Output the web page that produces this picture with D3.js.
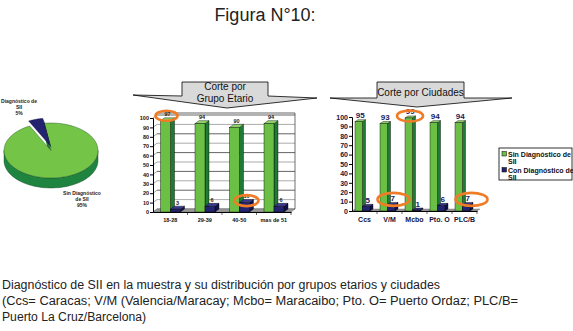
<!DOCTYPE html>
<html>
<head>
<meta charset="utf-8">
<script src="https://cdn.jsdelivr.net/npm/d3@7"></script>
<style>
  body { margin: 0; background: #fff; }
  svg { display: block; font-family: "Liberation Sans", Arial, sans-serif; }
</style>
</head>
<body>
<div id="chart"></div>
<script>
// data
const pieLabels = ["Sin Diagnóstico de SII", "Diagnóstico de SII"];
const pieValues = [95, 5];

const ageGroups = ["18-28", "29-39", "40-50", "mas de 51"];
const ageSin = [97, 94, 90, 94];
const ageCon = [3, 6, 10, 6];

const cities = ["Ccs", "V/M", "Mcbo", "Pto. O", "PLC/B"];
const citySin = [95, 93, 99, 94, 94];
const cityCon = [5, 7, 1, 6, 7];

const yTicks = d3.range(0, 101, 10);
const seriesNames = ["Sin Diagnóstico de SII", "Con Diagnóstico de SII"];
const captionLines = [
  "Diagnóstico de SII en la muestra y su distribución por grupos etarios y ciudades",
  "(Ccs= Caracas; V/M (Valencia/Maracay; Mcbo= Maracaibo; Pto. O= Puerto Ordaz; PLC/B=",
  "Puerto La Cruz/Barcelona)"
];

const W = 573, H = 331;
const green = "#6cbf45", greenTop = "#8fd468", greenSide = "#1e7a34";
const navy = "#232370", navyTop = "#3a3a8f", navySide = "#12124a";
const orange = "#f07c28";

const svg = d3.select("#chart").append("svg")
    .attr("width", W)
    .attr("height", H);

// title
svg.append("text")
    .attr("x", 265).attr("y", 21)
    .attr("text-anchor", "middle")
    .attr("font-size", 18)
    .attr("fill", "#222")
    .text("Figura N°10:");

// ---------- 3D pie ----------
const pc = { x: 51, y: 150.5, rx: 47, ry: 27.5, depth: 10 };
const pie = d3.pie().sort(null)
    .startAngle(-9 * Math.PI / 180)
    .endAngle(351 * Math.PI / 180);
const arcs = pie(pieValues);

function ept(t, dx, dy) {
  return [pc.x + dx + pc.rx * Math.sin(t), pc.y + dy - pc.ry * Math.cos(t)];
}
function arcPts(a0, a1, dx, dy) {
  const n = 60, pts = [];
  for (let i = 0; i <= n; i++) pts.push(ept(a0 + (a1 - a0) * i / n, dx, dy));
  return pts;
}

const pieG = svg.append("g");
// side wall of green (front half visible)
{
  const a0 = Math.PI / 2, a1 = 3 * Math.PI / 2;
  const top = arcPts(a0, a1, 0, 0);
  const bot = arcPts(a1, a0, 0, pc.depth);
  pieG.append("path")
      .attr("d", d3.line()(top.concat(bot)) + "Z")
      .attr("fill", "#1f8440")
      .attr("stroke", "#0d3d1a").attr("stroke-width", 0.4);
}
// green top face
{
  const a = arcs[0];
  const pts = [[pc.x, pc.y]].concat(arcPts(a.startAngle, a.endAngle, 0, 0));
  const e = ept(a.startAngle, 0, 0);
  pieG.append("path")
      .attr("d", d3.line()([[pc.x, pc.y], e, [e[0], e[1] + pc.depth], [pc.x, pc.y + pc.depth]]) + "Z")
      .attr("fill", greenSide);
  pieG.append("path")
      .attr("d", d3.line()(pts) + "Z")
      .attr("fill", "#74c447")
      .attr("stroke", "#1a4d1a").attr("stroke-width", 0.4);
}
// blue exploded wedge
{
  const a = arcs[1];
  const dx = -1, dy = -5;
  const c = [pc.x + dx, pc.y + dy];
  const e = ept(a.endAngle, dx, dy);
  pieG.append("path")
      .attr("d", d3.line()([c, e, [e[0] + 1.5, e[1] + 3], [c[0] + 1.5, c[1] + 3]]) + "Z")
      .attr("fill", navySide);
  const pts = [c].concat(arcPts(a.startAngle, a.endAngle, dx, dy));
  pieG.append("path")
      .attr("d", d3.line()(pts) + "Z")
      .attr("fill", navy)
      .attr("stroke", "#0a0a30").attr("stroke-width", 0.4);
}
// pie labels
const pieLab = [
  { x: 19, y: 103, lines: ["Diagnóstico de", "SII", pieValues[1] + "%"] },
  { x: 82, y: 195, lines: ["Sin Diagnóstico", "de SII", pieValues[0] + "%"] }
];
pieLab.forEach(l => {
  const t = pieG.append("text")
      .attr("text-anchor", "middle")
      .attr("font-size", 5).attr("font-weight", "bold").attr("fill", "#222");
  l.lines.forEach((s, i) => t.append("tspan").attr("x", l.x).attr("y", l.y + i * 6.2).text(s));
});

// ---------- callout arrows ----------
function callout(box, wl, wr, tip, lines, ty) {
  const g = svg.append("g");
  g.append("path")
      .attr("d", d3.line()([
        [box.x0, box.y0], [box.x1, box.y0], [box.x1, box.y1],
        [wr[0], wr[1]], [tip[0], tip[1]], [wl[0], wl[1]],
        [box.x0, box.y1]
      ]) + "Z")
      .attr("fill", "#d9d9d9")
      .attr("stroke", "#000").attr("stroke-width", 0.8);
  const t = g.append("text")
      .attr("text-anchor", "middle")
      .attr("font-size", 10).attr("fill", "#111");
  lines.forEach((s, i) => t.append("tspan").attr("x", (box.x0 + box.x1) / 2).attr("y", ty + i * 12).text(s));
}
callout({ x0: 182, x1: 268, y0: 82, y1: 96 }, [133, 95], [317, 98], [227, 108], ["Corte por", "Grupo Etario"], 90);
callout({ x0: 377, x1: 464, y0: 82, y1: 98 }, [330, 98], [512, 98], [417, 107], ["Corte por Ciudades"], 96);

// ---------- 3D bar helper ----------
function bar3d(g, x, w, yTop, y0, dx, dy, fill, top, side) {
  g.append("path")
      .attr("d", d3.line()([[x + w, yTop], [x + w + dx, yTop + dy], [x + w + dx, y0 + dy], [x + w, y0]]) + "Z")
      .attr("fill", side).attr("stroke", "#000").attr("stroke-width", 0.4);
  g.append("path")
      .attr("d", d3.line()([[x, yTop], [x + dx, yTop + dy], [x + w + dx, yTop + dy], [x + w, yTop]]) + "Z")
      .attr("fill", top).attr("stroke", "#000").attr("stroke-width", 0.4);
  g.append("rect")
      .attr("x", x).attr("y", yTop)
      .attr("width", w).attr("height", Math.max(0, y0 - yTop))
      .attr("fill", fill).attr("stroke", "#000").attr("stroke-width", 0.4);
}

function barChart(opt) {
  const g = svg.append("g");
  const x = d3.scaleBand().domain(opt.cats).range([opt.x0, opt.x1]);
  const sub = d3.scaleBand().domain(["sin", "con"]).range(opt.sub);
  const y = d3.scaleLinear().domain([0, 100]).range([opt.y0, opt.y1]);
  const dx = opt.dx, dy = opt.dy;

  // back wall gridlines
  if (opt.grid) {
    yTicks.forEach((v, i) => {
      g.append("line")
          .attr("x1", opt.x0 + dx).attr("x2", opt.x1 + dx)
          .attr("y1", y(v) + dy).attr("y2", y(v) + dy)
          .attr("stroke", i % 2 ? "#888" : "#222").attr("stroke-width", 0.7);
      g.append("line")
          .attr("x1", opt.x0).attr("x2", opt.x0 + dx)
          .attr("y1", y(v)).attr("y2", y(v) + dy)
          .attr("stroke", "#444").attr("stroke-width", 0.5);
    });
    g.append("line")
        .attr("x1", opt.x1 + dx).attr("x2", opt.x1 + dx)
        .attr("y1", y(100) + dy - 2).attr("y2", y(0) + dy)
        .attr("stroke", "#333").attr("stroke-width", 0.7);
    g.append("line")
        .attr("x1", opt.x0 + dx).attr("x2", opt.x1 + dx)
        .attr("y1", y(100) + dy - 2).attr("y2", y(100) + dy - 2)
        .attr("stroke", "#222").attr("stroke-width", 0.7);
  }
  // floor
  g.append("path")
      .attr("d", d3.line()([[opt.x0, y(0)], [opt.x1, y(0)], [opt.x1 + dx, y(0) + dy], [opt.x0 + dx, y(0) + dy]]) + "Z")
      .attr("fill", "#999").attr("stroke", "#666").attr("stroke-width", 0.4);

  // bars
  opt.cats.forEach((c, i) => {
    const xs = x(c) + sub("sin"), xc = x(c) + sub("con");
    bar3d(g, xs, sub.bandwidth(), y(opt.sin[i]), y(0), dx, dy, green, greenTop, greenSide);
    bar3d(g, xc, sub.bandwidth(), y(opt.con[i]), y(0), dx, dy, navy, navyTop, navySide);
    g.append("text")
        .attr("x", xs + sub.bandwidth() / 2 + dx / 2).attr("y", y(opt.sin[i]) + dy - 1.5)
        .attr("text-anchor", "middle")
        .attr("font-size", opt.vfs).attr("font-weight", "bold").attr("fill", opt.vcol)
        .text(opt.sin[i]);
    g.append("text")
        .attr("x", xc + sub.bandwidth() / 2 + dx / 2).attr("y", y(opt.con[i]) + dy - 1.5)
        .attr("text-anchor", "middle")
        .attr("font-size", opt.vfs).attr("font-weight", "bold").attr("fill", opt.vcol)
        .text(opt.con[i]);
  });

  // axes
  const ya = g.append("g")
      .attr("transform", `translate(${opt.x0},0)`)
      .call(d3.axisLeft(y).tickValues(yTicks).tickSize(3).tickPadding(1));
  ya.select(".domain").attr("stroke", "#000");
  ya.selectAll("text").attr("font-size", opt.tfs).attr("font-weight", "bold").attr("fill", opt.tcol)
      .attr("font-family", "Liberation Sans, Arial, sans-serif");

  const xa = g.append("g")
      .attr("transform", `translate(0,${opt.y0})`)
      .call(d3.axisBottom(x).tickSize(0).tickPadding(opt.xpad));
  xa.select(".domain").attr("stroke", "#000");
  xa.selectAll("text").attr("font-size", opt.xfs).attr("font-weight", "bold").attr("fill", opt.tcol)
      .attr("font-family", "Liberation Sans, Arial, sans-serif");
  // category separator ticks
  opt.cats.forEach(c => {
    g.append("line")
        .attr("x1", x(c) + x.bandwidth()).attr("x2", x(c) + x.bandwidth())
        .attr("y1", opt.y0).attr("y2", opt.y0 + 3)
        .attr("stroke", "#000").attr("stroke-width", 0.6);
  });
  return { g, x, y, sub };
}

const left = barChart({
  cats: ageGroups, sin: ageSin, con: ageCon,
  x0: 153, x1: 291, y0: 212, y1: 118, sub: [7.5, 27.5], dx: 4, dy: -3,
  grid: true, vfs: 5.5, vcol: "#222", tfs: 5.5, xfs: 5.5, xpad: 6, tcol: "#111"
});
const right = barChart({
  cats: cities, sin: citySin, con: cityCon,
  x0: 352, x1: 477, y0: 211, y1: 117, sub: [3, 18], dx: 3, dy: -2,
  grid: false, vfs: 8, vcol: "#1a1a60", tfs: 7, xfs: 7, xpad: 6, tcol: "#14143c"
});

// orange highlight rings
function ring(c, x, y, rx, ry) {
  c.g.append("ellipse")
      .attr("cx", x).attr("cy", y).attr("rx", rx).attr("ry", ry)
      .attr("fill", "none").attr("stroke", orange).attr("stroke-width", 2.6);
}
ring(left, left.x(ageGroups[0]) + left.sub("sin") + 6, left.y(ageSin[0]) - 5, 11, 5);
ring(left, left.x(ageGroups[2]) + left.sub("con") + 7, left.y(ageCon[2]) - 2, 12, 5.5);
ring(right, right.x(cities[2]) + right.sub("sin") + 5, right.y(citySin[2]) - 2, 13, 5.5);
ring(right, right.x(cities[1]) + right.sub("con") + 6, right.y(cityCon[1]) - 5, 16, 6.5);
ring(right, right.x(cities[4]) + right.sub("con") + 9, right.y(cityCon[4]) - 5, 16, 6.5);

// legend
{
  const lg = svg.append("g").attr("transform", "translate(499,148)");
  lg.append("rect").attr("width", 73).attr("height", 32)
      .attr("fill", "#fff").attr("stroke", "#000").attr("stroke-width", 0.8);
  [green, navy].forEach((col, i) => {
    lg.append("rect").attr("x", 3).attr("y", 3.5 + i * 16).attr("width", 4.5).attr("height", 4.5)
        .attr("fill", col).attr("stroke", "#000").attr("stroke-width", 0.5);
    const words = seriesNames[i].split(" ");
    const t = lg.append("text").attr("font-size", 7).attr("font-weight", "bold").attr("fill", "#111");
    t.append("tspan").attr("x", 9).attr("y", 8.5 + i * 16).text(words.slice(0, 3).join(" "));
    t.append("tspan").attr("x", 9).attr("y", 15.5 + i * 16).text(words.slice(3).join(" "));
  });
}

// caption
const capLens = [438, 516, 144];
captionLines.forEach((s, i) => {
  svg.append("text")
      .attr("x", 2).attr("y", 289 + i * 16)
      .attr("font-size", 12).attr("fill", "#222")
      .attr("textLength", capLens[i]).attr("lengthAdjust", "spacingAndGlyphs")
      .text(s);
});
</script>
</body>
</html>
